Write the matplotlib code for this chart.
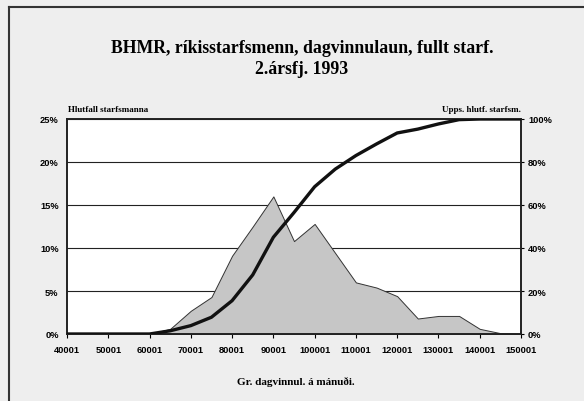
import matplotlib
matplotlib.use("Agg")
import matplotlib.pyplot as plt
from matplotlib.lines import Line2D

# Data
salary = [40001, 45001, 50001, 55001, 60001, 65001, 70001, 75001, 80001, 85001,
          90001, 95001, 100001, 105001, 110001, 115001, 120001, 125001, 130001,
          135001, 140001, 145001, 150001]
share_pct = [0, 0, 0, 0, 0, 0.6, 2.7, 4.3, 9.1, 12.5, 16.0, 10.8, 12.8, 9.4,
             6.0, 5.4, 4.4, 1.8, 2.1, 2.1, 0.6, 0.1, 0]
cum_pct = [0, 0, 0, 0, 0, 1.5, 3.9, 7.8, 15.5, 27.5, 45.0, 56.5, 68.5, 76.7,
           83.0, 88.4, 93.5, 95.3, 97.7, 99.7, 100, 100, 100]
xticks = [40001, 50001, 60001, 70001, 80001, 90001, 100001, 110001, 120001,
          130001, 140001, 150001]
left_ticks = [0, 5, 10, 15, 20, 25]
right_ticks = [0, 20, 40, 60, 80, 100]

title1 = "BHMR, ríkisstarfsmenn, dagvinnulaun, fullt starf."
title2 = "2.ársfj. 1993"
ylabel_left = "Hlutfall starfsmanna"
ylabel_right = "Upps. hlutf. starfsm."
xlabel = "Gr. dagvinnul. á mánuði."

fig = plt.figure(figsize=(5.84, 4.02), dpi=100, facecolor="#eeeeee")
ax = fig.add_axes([67/584, 1-335/402, (521-67)/584, (335-120)/402])
ax.set_facecolor("white")

serif = ["Liberation Serif", "DejaVu Serif"]
sans = ["Liberation Sans", "DejaVu Sans"]

# gridlines
for t in left_ticks[1:]:
    ax.axhline(t, color="#222222", lw=0.8, zorder=1)

ax.fill_between(salary, share_pct, 0, facecolor="#c6c6c6", edgecolor="#333333",
                lw=0.7, zorder=2)
ax.set_xlim(40001, 150001)
ax.set_ylim(0, 25)
ax.set_xticks(xticks)
ax.set_xticklabels([str(v) for v in xticks], fontsize=6.7, fontfamily=sans,
                   fontweight="bold")
ax.set_yticks(left_ticks)
ax.set_yticklabels([f"{v}%" for v in left_ticks], fontsize=6.7,
                   fontfamily=sans, fontweight="bold")
ax.tick_params(axis="x", direction="out", length=3, width=0.8, pad=5)
ax.tick_params(axis="y", length=0, pad=6)
for s in ax.spines.values():
    s.set_linewidth(1.2)
    s.set_color("#222222")

ax2 = ax.twinx()
ax2.plot(salary, cum_pct, color="#111111", lw=2.4, zorder=5,
         solid_capstyle="round")
ax2.set_ylim(0, 100)
ax2.set_yticks(right_ticks)
ax2.set_yticklabels([f"{v}%" for v in right_ticks], fontsize=6.7,
                    fontfamily=sans, fontweight="bold")
ax2.tick_params(axis="y", direction="out", length=2, pad=3)
for s in ax2.spines.values():
    s.set_linewidth(1.2)
    s.set_color("#222222")

fig.text(302/584, 1-49/402, title1, ha="center", va="center",
         fontsize=12.8, fontweight="bold", fontfamily=serif)
fig.text(302/584, 1-70/402, title2, ha="center", va="center",
         fontsize=12.8, fontweight="bold", fontfamily=serif)
fig.text(68/584, 1-110/402, ylabel_left, ha="left", va="center",
         fontsize=6.5, fontweight="bold", fontfamily=serif)
fig.text(521/584, 1-110/402, ylabel_right, ha="right", va="center",
         fontsize=6.5, fontweight="bold", fontfamily=serif)
fig.text(296/584, 1-382/402, xlabel, ha="center", va="center",
         fontsize=8, fontweight="bold", fontfamily=serif)

# outer border lines
fig.add_artist(Line2D([9/584, 1], [1-8/402, 1-8/402], transform=fig.transFigure,
                      color="#333333", lw=1.5))
fig.add_artist(Line2D([9/584, 9/584], [0, 1-8/402], transform=fig.transFigure,
                      color="#333333", lw=1.5))

fig.savefig("out.png", dpi=100, facecolor=fig.get_facecolor())
